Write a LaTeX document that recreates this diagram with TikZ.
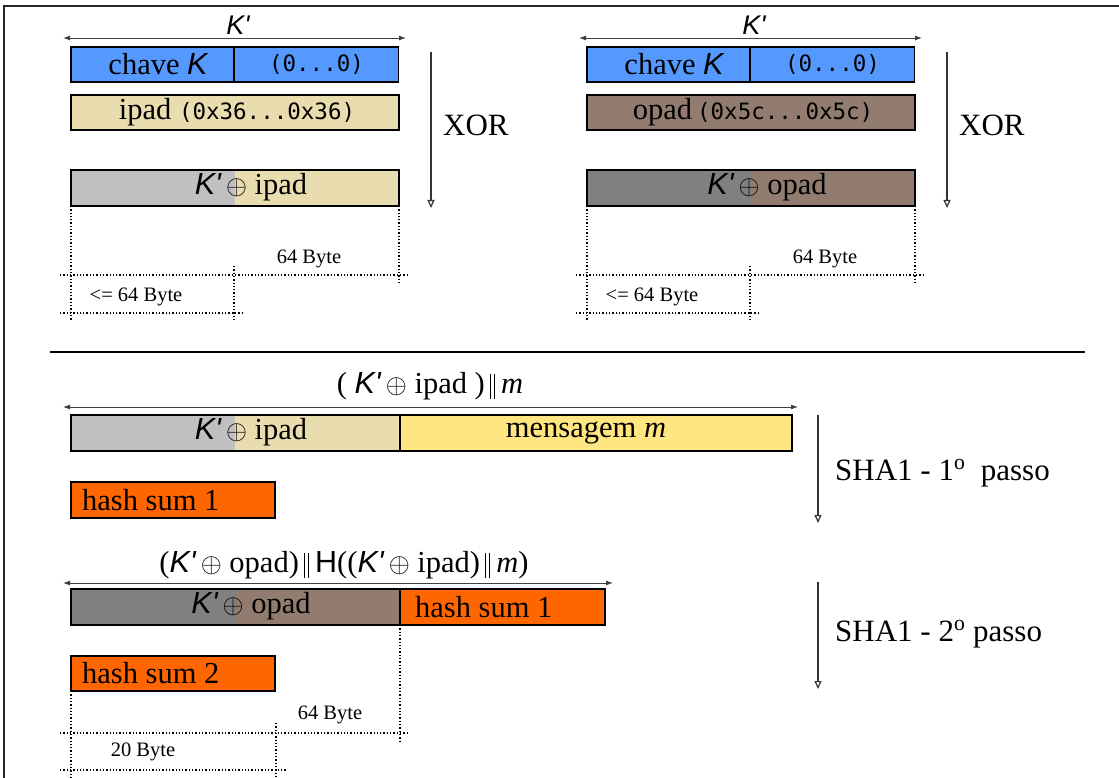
\RequirePackage{fix-cm}
\documentclass[tikz,border=0pt]{standalone}
\usepackage{fontspec}
\setmainfont{Liberation Serif}
\newfontfamily\kfont{Liberation Sans}
\newfontfamily\codefont{DejaVu Sans Mono}
\usetikzlibrary{arrows.meta}

\definecolor{keyblue}{HTML}{5599FF}
\definecolor{ipadbeige}{HTML}{E9DCAE}
\definecolor{opadbrown}{HTML}{917C6F}
\definecolor{ltgray}{HTML}{C0C0C0}
\definecolor{dkgray}{HTML}{808080}
\definecolor{msgyellow}{HTML}{FFE680}
\definecolor{hashorange}{HTML}{FF6600}

% K' in sans italic with a straight prime
\newcommand{\Kp}{{\kfont\itshape K\char"27}}
\newcommand{\Kk}{{\kfont\itshape K}}
\newcommand{\mathsym}[2]{{\fontsize{#1}{30}\selectfont$#2$}}
\newcommand{\xo}{\,\mathsym{27}{\oplus}\ }
% concatenation bars
\newcommand{\cat}{\hspace{5pt}\rule[-6pt]{0.9pt}{25pt}\hspace{3.5pt}\rule[-6pt]{0.9pt}{25pt}\hspace{6pt}}
\newcommand{\codetext}[1]{{\codefont\fontsize{22.5}{26}\selectfont#1}}

\tikzset{
  bar/.style={draw=black, line width=1.5pt, minimum height=35pt, inner sep=0pt, outer sep=0pt},
  txt/.style={inner sep=0pt, font=\fontsize{30.5}{34}\selectfont},
  code/.style={inner sep=0pt, font=\codefont\fontsize{22.5}{26}\selectfont},
  small/.style={inner sep=0pt, font=\fontsize{20.5}{24}\selectfont},
  big/.style={inner sep=0pt, font=\fontsize{31}{35}\selectfont},
  dimarrow/.style={{Latex[length=7pt,width=5pt]}-{Latex[length=7pt,width=5pt]}, line width=0.9pt, draw=black!75},
  steparrow/.style={-{Triangle[open,length=8pt,width=7pt]}, line width=1.2pt, draw=black!80},
  dots/.style={dotted, line width=1.3pt},
  halfleft/.style={path picture={\fill[#1] (path picture bounding box.south west) rectangle ([xshift=163.5pt]path picture bounding box.north west);}}
}

% one key-padding block: #1 name prefix, #2 x offset, #3 pad colour,
% #4 left colour of the xor result, #5 pad row text, #6 pad name
\newcommand{\padblock}[6]{%
  \begin{scope}[xshift=#2]
    \node[txt, font=\kfont\itshape\fontsize{27}{30}\selectfont] (#1klab) at (238,25) {K\char"27};
    \coordinate (#1ka) at (63,38);
    \coordinate (#1kb) at (406,38);
    \draw[dimarrow] (#1ka) -- (#1kb);
    \node[bar, fill=keyblue, minimum width=163pt] (#1ck1) at (152.5,64.5) {};
    \node[bar, fill=keyblue, minimum width=164pt] (#1ck2) at (316.5,64.5) {};
    \node[txt] (#1ckt) at (158,64) {chave \Kk};
    \node[code] (#1zt) at (#1ck2) {(0...0)};
    \node[bar, fill=#3, minimum width=328pt] (#1pd) at (235,112.5) {};
    \node[txt] (#1pdt) at (237,112) {#5};
    \node[bar, fill=#3, halfleft=#4, minimum width=328pt, minimum height=36pt] (#1kx) at (235,188) {};
    \node[txt] (#1kxt) at (251,187) {\Kp\xo#6};
    \coordinate (#1xa) at (431,52);
    \coordinate (#1xb) at (431,208);
    \draw[steparrow] (#1xa) -- (#1xb);
    \node[big, anchor=west] (#1xor) at (443,125) {XOR};
    % byte-length guides
    \coordinate (#1d1) at (71,320);
    \coordinate (#1d2) at (399,284);
    \coordinate (#1h1a) at (60,275);
    \coordinate (#1h1b) at (409,275);
    \coordinate (#1m1) at (234,266);
    \coordinate (#1m2) at (234,321);
    \coordinate (#1h2a) at (60,313);
    \coordinate (#1h2b) at (244,313);
    \draw[dots] (#1kx.south west) -- (#1d1);
    \draw[dots] (#1kx.south east) -- (#1d2);
    \draw[dots] (#1h1a) -- (#1h1b);
    \draw[dots] (#1m1) -- (#1m2);
    \draw[dots] (#1h2a) -- (#1h2b);
    \node[small] (#1b64) at (309,259) {64 Byte};
    \node[small] (#1ble) at (136,297) {<= 64 Byte};
  \end{scope}}

\begin{document}
\begin{tikzpicture}[x=1pt, y=-1pt]
\useasboundingbox (0,0) rectangle (1119,778);

% frame edges
\coordinate (ftl) at (4,6);
\coordinate (ftr) at (1119,6);
\coordinate (fbl) at (4,778);
\draw[line width=2pt, black!85] (ftr) -- (ftl) -- (fbl);

% key preparation: inner and outer pad
\padblock{L}{0pt}{ipadbeige}{ltgray}{ipad \codetext{(0x36...0x36)}}{ipad}
\padblock{R}{516pt}{opadbrown}{dkgray}{opad\,\codetext{(0x5c...0x5c)}}{opad}

% separator
\coordinate (sepa) at (50,352);
\coordinate (sepb) at (1085,352);
\draw[line width=2.5pt] (sepa) -- (sepb);

% first hash pass
\node[txt] (f1lab) at (430,386) {( \Kp\xo ipad )\cat\textit{m}};
\coordinate (f1a) at (63,407);
\coordinate (f1b) at (798,407);
\draw[dimarrow] (f1a) -- (f1b);
\node[bar, fill=ipadbeige, halfleft=ltgray, minimum width=329pt, minimum height=36pt] (kxi) at (235.5,433) {};
\node[txt] (kxit) at (251,432) {\Kp\xo ipad};
\node[bar, fill=msgyellow, minimum width=392pt, minimum height=36pt] (msg) at (596,433) {};
\node[txt] (msgt) at (586,433) {mensagem \textit{m}};
\node[bar, fill=hashorange, minimum width=204pt, minimum height=36pt] (hs1) at (173,500) {};
\node[txt, anchor=west] (hs1t) at (82,500) {hash sum 1};
\coordinate (s1a) at (818,415);
\coordinate (s1b) at (818,523);
\draw[steparrow] (s1a) -- (s1b);
\node[big, anchor=west] (s1lab) at (835,473) {SHA1 - 1\textsuperscript{o}\ \ passo};

% second hash pass
\node[txt] (f2lab) at (344,565) {(\Kp\xo opad)\cat{\kfont H}((\Kp\xo ipad)\cat\textit{m})};
\coordinate (f2a) at (63,583);
\coordinate (f2b) at (613,583);
\draw[dimarrow] (f2a) -- (f2b);
\node[bar, fill=opadbrown, halfleft=dkgray, minimum width=329pt, minimum height=36pt] (kxo) at (235.5,607) {};
\node[txt] (kxot) at (251,606) {\Kp\xo opad};
\node[bar, fill=hashorange, minimum width=205pt, minimum height=36pt] (hs1b) at (502.5,607) {};
\node[txt, anchor=west] (hs1bt) at (415,607) {hash sum 1};
\node[bar, fill=hashorange, minimum width=204pt, minimum height=35pt] (hs2) at (173,673.5) {};
\node[txt, anchor=west] (hs2t) at (82,673.5) {hash sum 2};
\coordinate (s2a) at (818,582);
\coordinate (s2b) at (818,689);
\draw[steparrow] (s2a) -- (s2b);
\node[big, anchor=west] (s2lab) at (835,634) {SHA1 - 2\textsuperscript{o} passo};

% byte-length guides of the result
\coordinate (g1) at (400,741);
\coordinate (g2) at (71,778);
\coordinate (g3a) at (60,733);
\coordinate (g3b) at (409,733);
\coordinate (g4a) at (276,723);
\coordinate (g4b) at (276,778);
\coordinate (g5a) at (60,770);
\coordinate (g5b) at (286,770);
\draw[dots] (kxo.south east) -- (g1);
\draw[dots] (hs2.south west) -- (g2);
\draw[dots] (g3a) -- (g3b);
\draw[dots] (g4a) -- (g4b);
\draw[dots] (g5a) -- (g5b);
\node[small] (b64) at (330,715) {64 Byte};
\node[small] (b20) at (143,752) {20 Byte};
\end{tikzpicture}
\end{document}
